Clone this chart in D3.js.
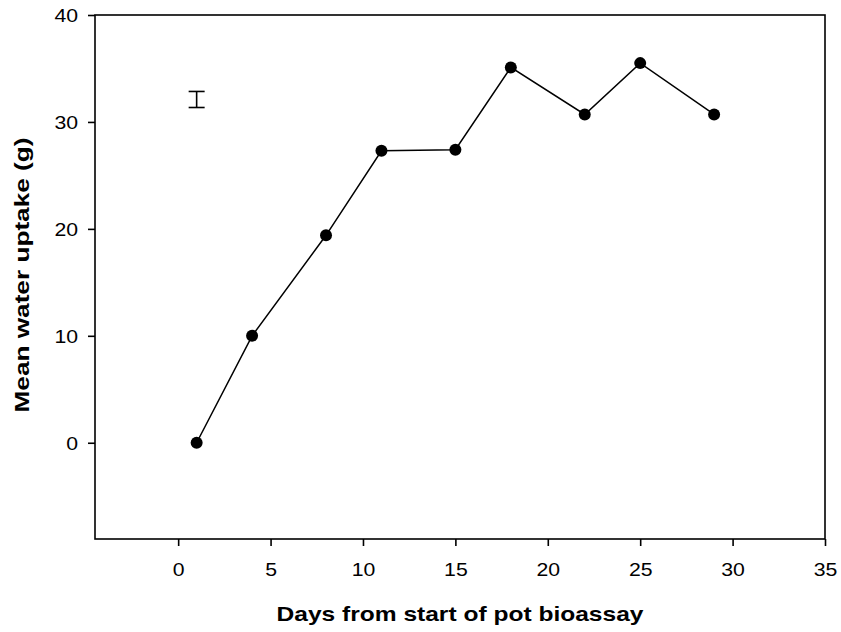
<!DOCTYPE html>
<html>
<head>
<meta charset="utf-8">
<script src="https://cdn.jsdelivr.net/npm/d3@7"></script>
<style>
  html, body { margin: 0; padding: 0; background: #fff; }
  svg text { font-family: Arial, "Liberation Sans", sans-serif; fill: #000; }
</style>
</head>
<body>
<svg id="chart" width="841" height="632"></svg>
<script>
// Days after the start of the pot bioassay and mean water uptake (g)
const days = [1, 4, 8, 11, 15, 18, 22, 25, 29];
const uptake = [0, 10, 19.4, 27.3, 27.4, 35.1, 30.7, 35.5, 30.7];

// Single error bar shown at day 1
const errDay = [1];
const errLow = [31.35];
const errHigh = [32.85];

const xTicks = [0, 5, 10, 15, 20, 25, 30, 35];
const yTicks = [0, 10, 20, 30, 40];

const xTitle = "Days from start of pot bioassay";
const yTitle = "Mean water uptake (g)";

const svg = d3.select("#chart");
const plotLeft = 95, plotRight = 825, plotTop = 15, plotBottom = 539;

const x = d3.scaleLinear().domain([-4.5, 35]).range([plotLeft, plotRight]);
const y = d3.scaleLinear().domain([-9, 40]).range([plotBottom, plotTop]);

// frame around the plot area
svg.append("rect")
  .attr("x", plotLeft).attr("y", plotTop)
  .attr("width", plotRight - plotLeft).attr("height", plotBottom - plotTop)
  .attr("fill", "none").attr("stroke", "#000").attr("stroke-width", 1.6);

// axes with outward ticks
const xAxis = svg.append("g")
  .attr("transform", `translate(0,${plotBottom})`)
  .call(d3.axisBottom(x).tickValues(xTicks).tickSize(7).tickSizeOuter(0).tickPadding(0));
const yAxis = svg.append("g")
  .attr("transform", `translate(${plotLeft},0)`)
  .call(d3.axisLeft(y).tickValues(yTicks).tickSize(7).tickSizeOuter(0).tickPadding(0));

[xAxis, yAxis].forEach(g => {
  g.select(".domain").remove();
  g.selectAll(".tick line").attr("stroke", "#000").attr("stroke-width", 1.6);
  g.selectAll(".tick text").attr("font-size", 18).attr("fill", "#000")
    .attr("font-family", "Arial, 'Liberation Sans', sans-serif");
});

xAxis.selectAll(".tick text")
  .attr("dy", null).attr("y", 0)
  .attr("transform", "translate(0,37) scale(1.18,1)");
yAxis.selectAll(".tick text")
  .attr("x", 0).attr("dy", "0.36em")
  .attr("transform", "translate(-17,0) scale(1.18,1)");

// connecting line
const line = d3.line().x((d, i) => x(days[i])).y(d => y(d));
svg.append("path")
  .datum(uptake)
  .attr("d", line)
  .attr("fill", "none").attr("stroke", "#000").attr("stroke-width", 1.5);

// markers
svg.selectAll("circle.pt")
  .data(uptake)
  .join("circle")
  .attr("class", "pt")
  .attr("cx", (d, i) => x(days[i]))
  .attr("cy", d => y(d))
  .attr("r", 6)
  .attr("fill", "#000");

// error bar with caps
const eb = svg.append("g").attr("stroke", "#000").attr("stroke-width", 1.6);
errDay.forEach((d, i) => {
  const cx = x(d);
  eb.append("line").attr("x1", cx).attr("x2", cx).attr("y1", y(errLow[i])).attr("y2", y(errHigh[i]));
  eb.append("line").attr("x1", cx - 8).attr("x2", cx + 8).attr("y1", y(errLow[i])).attr("y2", y(errLow[i]));
  eb.append("line").attr("x1", cx - 8).attr("x2", cx + 8).attr("y1", y(errHigh[i])).attr("y2", y(errHigh[i]));
});

// axis titles
svg.append("text")
  .attr("x", 460).attr("y", 621)
  .attr("text-anchor", "middle")
  .attr("font-size", 21).attr("font-weight", "bold")
  .attr("textLength", 367).attr("lengthAdjust", "spacingAndGlyphs")
  .text(xTitle);

svg.append("text")
  .attr("transform", "translate(29,275) rotate(-90)")
  .attr("text-anchor", "middle")
  .attr("font-size", 21).attr("font-weight", "bold")
  .attr("textLength", 275).attr("lengthAdjust", "spacingAndGlyphs")
  .text(yTitle);
</script>
</body>
</html>
